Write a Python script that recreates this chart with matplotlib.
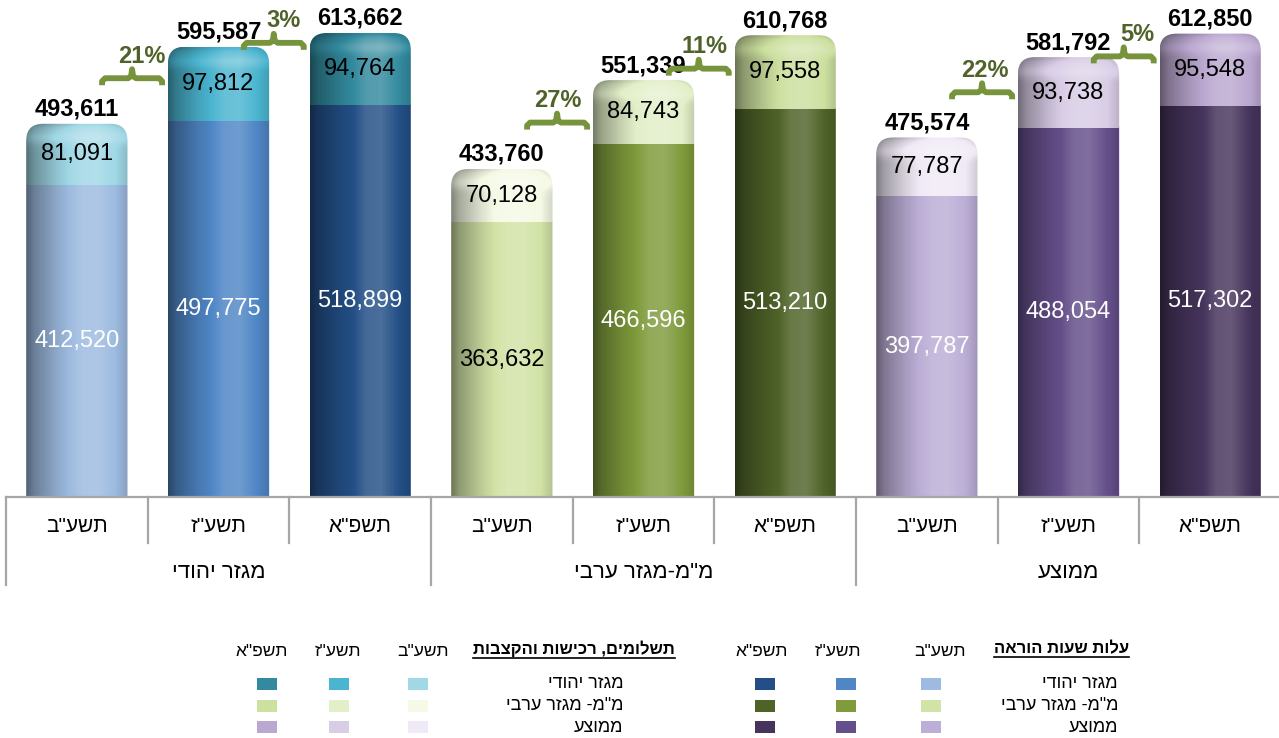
import numpy as np
import matplotlib
matplotlib.use('Agg')
import matplotlib.pyplot as plt
from matplotlib.patches import FancyBboxPatch, Rectangle
from matplotlib.lines import Line2D
from matplotlib.colors import to_rgb
import matplotlib.transforms as mtransforms

plt.rcParams['font.family'] = ['Liberation Sans', 'DejaVu Sans']

# ---------------- data ----------------
groups = ['מגזר יהודי', 'מ"מ-מגזר ערבי', 'ממוצע']
years = ['תשע"ב', 'תשע"ז', 'תשפ"א']
teaching_cost = [[412520, 497775, 518899],
                 [363632, 466596, 513210],
                 [397787, 488054, 517302]]
payments = [[81091, 97812, 94764],
            [70128, 84743, 97558],
            [77787, 93738, 95548]]
totals = [[493611, 595587, 613662],
          [433760, 551339, 610768],
          [475574, 581792, 612850]]
growth_pct = [[21, 3], [27, 11], [22, 5]]
legend_title_teaching = 'עלות שעות הוראה'
legend_title_payments = 'תשלומים, רכישות והקצבות'
legend_rows = ['מגזר יהודי', 'מ"מ- מגזר ערבי', 'ממוצע']

# ---------------- styles / layout ----------------
teach_colors = [['#9dbbe0', '#4f86c6', '#234f86'],
                ['#d2e3a6', '#7f9b3c', '#4f6328'],
                ['#bcaed6', '#654f8a', '#46345c']]
pay_colors = [['#a0d8e6', '#4bb5d0', '#338a9e'],
              ['#f5fae6', '#e2efc8', '#cde0a0'],
              ['#f0eaf6', '#d9cde6', '#bba8d0']]
bracket_color = '#77933c'
pct_color = '#4f6228'
axis_color = '#a6a6a6'
bracket_nudge_px = [[7, -3], [2, -11], [5, -11]]   # layout tweak (px, + = up)
pct_dx_px = [[10, 10], [1, 6], [3, 14]]


def rtl(s):
    return s[::-1]


W, H = 1279, 738
fig = plt.figure(figsize=(W / 100, H / 100), dpi=100)
ax = fig.add_axes([6 / W, 1 - 497 / H, 1275 / W, 497 / H])
YMAX = 657315
ax.set_xlim(-0.5, 8.5)
ax.set_ylim(0, YMAX)
for s in ax.spines.values():
    s.set_visible(False)
ax.set_xticks([])
ax.set_yticks([])

bottom_vals = [v for row in teaching_cost for v in row]
top_vals = [v for row in payments for v in row]
tot_vals = [v for row in totals for v in row]
b_cols = [c for row in teach_colors for c in row]
t_cols = [c for row in pay_colors for c in row]
xs = np.arange(len(tot_vals))

bars = ax.bar(xs, tot_vals, width=0.715, color='none', edgecolor='none')

px_x = 1275 / 9.0
px_y = 497.0 / YMAX
aspect = (1 / px_y) / (1 / px_x)

tt = np.linspace(0, 1, 160)
prof_t = [0.0, 0.08, 0.3, 0.55, 0.7, 0.88, 1.0]
prof_f = [0.52, 0.68, 0.90, 1.10, 1.12, 1.0, 0.86]
fprof = np.interp(tt, prof_t, prof_f)


def shade(base, f):
    c = np.array(to_rgb(base))
    out = np.where(f[..., None] <= 1, c * f[..., None],
                   c + (1 - c) * np.clip((f[..., None] - 1) * 1.5, 0, 1))
    return np.clip(out, 0, 1)


def make_img(base, seg_px, highlight=False):
    ny = 80
    v = np.linspace(0, 1, ny)[:, None]
    f = np.repeat(fprof[None, :], ny, axis=0)
    if highlight:
        dist = (1 - v) * seg_px
        f = f + 0.12 * np.exp(-((dist - 14) / 7.0) ** 2) - 0.10 * np.exp(-(dist / 3.0) ** 2)
    return shade(base, f)


for i, rect in enumerate(bars):
    x0, w = rect.get_x(), rect.get_width()
    tot = tot_vals[i]
    ext = 40000
    patch = FancyBboxPatch((x0, -ext), w, tot + ext,
                           boxstyle='round,pad=0,rounding_size=0.12',
                           mutation_aspect=aspect, facecolor='none',
                           edgecolor='none', transform=ax.transData)
    ax.add_patch(patch)
    b = bottom_vals[i]
    im1 = ax.imshow(make_img(b_cols[i], b * px_y), extent=(x0, x0 + w, 0, b),
                    origin='lower', aspect='auto', interpolation='bilinear', zorder=2)
    im1.set_clip_path(patch)
    im2 = ax.imshow(make_img(t_cols[i], (tot - b) * px_y, True),
                    extent=(x0, x0 + w, b, tot),
                    origin='lower', aspect='auto', interpolation='bilinear', zorder=2)
    im2.set_clip_path(patch)

    xc = x0 + w / 2
    c = np.array(to_rgb(b_cols[i])) * 255
    lum = 0.299 * c[0] + 0.587 * c[1] + 0.114 * c[2]
    ax.text(xc, b / 2, f'{b:,}', ha='center', va='center', fontsize=17,
            color='black' if lum > 200 else 'white', zorder=4)
    ax.text(xc, b + top_vals[i] / 2, f'{top_vals[i]:,}', ha='center', va='center',
            fontsize=17, color='black', zorder=4)
    ax.annotate(f'{tot:,}', (xc, tot), xytext=(0, 10.5), textcoords='offset points',
                ha='center', va='center', fontsize=17, fontweight='bold', zorder=4)

ax.set_xlim(-0.5, 8.5)
ax.set_ylim(0, YMAX)

# brackets with growth percentages
bx = np.array([-30, -30, -27, -4, -1, 0, 1, 4, 27, 30, 30]) / 100.0
by = np.array([-7, -3, 0, 0, 2, 9, 2, 0, 0, -3, -7]) / 100.0
for g in range(3):
    for k in range(2):
        i = 3 * g + k
        xc = i + 0.39
        yb = (tot_vals[i] + tot_vals[i + 1]) / 2
        tr = (fig.dpi_scale_trans
              + mtransforms.Affine2D().translate(0, bracket_nudge_px[g][k])
              + mtransforms.ScaledTranslation(xc, yb, ax.transData))
        ln = Line2D(bx, by, transform=tr, color=bracket_color, lw=4.2,
                    solid_joinstyle='round', solid_capstyle='butt', zorder=5)
        ln.set_clip_on(False)
        ax.add_line(ln)
        ax.annotate(f'{growth_pct[g][k]}%', (xc, yb),
                    xytext=(pct_dx_px[g][k] * 0.72, 16 + bracket_nudge_px[g][k] * 0.72),
                    textcoords='offset points', ha='center', va='center',
                    fontsize=17, fontweight='bold', color=pct_color, zorder=6)

# category axis
ax.axhline(0, color=axis_color, lw=1.6, clip_on=False, zorder=3)
blend = mtransforms.blended_transform_factory(ax.transData, fig.transFigure)
y_axis = 1 - 497 / H
for bnd in np.arange(-0.5, 8.0, 1.0):
    long = (bnd + 0.5) % 3 == 0
    y_end = 1 - (585 if long else 543) / H
    fig.add_artist(Line2D([bnd, bnd], [y_axis, y_end], transform=blend,
                          color=axis_color, lw=1.6))
for g in range(3):
    for k in range(3):
        i = 3 * g + k
        fig.text(i, 1 - 527 / H, rtl(years[k]), transform=blend, ha='center',
                 va='center', fontsize=15)
    fig.text(3 * g + 1, 1 - 573 / H, rtl(groups[g]), transform=blend, ha='center',
             va='center', fontsize=16)


# legends
def fx(p):
    return p / W


def fy(p):
    return 1 - p / H


legend_blocks = [
    (legend_title_teaching, teach_colors, 1129, [940, 838, 762], [931, 846, 765], 1118),
    (legend_title_payments, pay_colors, 675, [423, 338, 262], [418, 339, 267], 623),
]
row_y = [684, 706, 727]
titles = []
for title, cols, tx, hx, sx, rx in legend_blocks:
    t = fig.text(fx(tx), fy(649), rtl(title), ha='right', va='center',
                 fontsize=12, fontweight='bold')
    titles.append(t)
    for k in range(3):
        fig.text(fx(hx[k]), fy(651), rtl(years[k]), ha='center', va='center', fontsize=12.5)
    for r in range(3):
        fig.text(fx(rx), fy(row_y[r]), rtl(legend_rows[r]), ha='right', va='center',
                 fontsize=13)
        for k in range(3):
            fig.add_artist(Rectangle((fx(sx[k] - 10), fy(row_y[r] + 6)), 20 / W, 12 / H,
                                     transform=fig.transFigure, facecolor=cols[r][k],
                                     edgecolor='none'))

fig.canvas.draw()
rend = fig.canvas.get_renderer()
for t in titles:
    bb = t.get_window_extent(rend)
    yl = (bb.y0 - 0.5) / H
    fig.add_artist(Line2D([bb.x0 / W, bb.x1 / W], [yl, yl], transform=fig.transFigure,
                          color='black', lw=1.2))

fig.savefig('out.png', dpi=100)
